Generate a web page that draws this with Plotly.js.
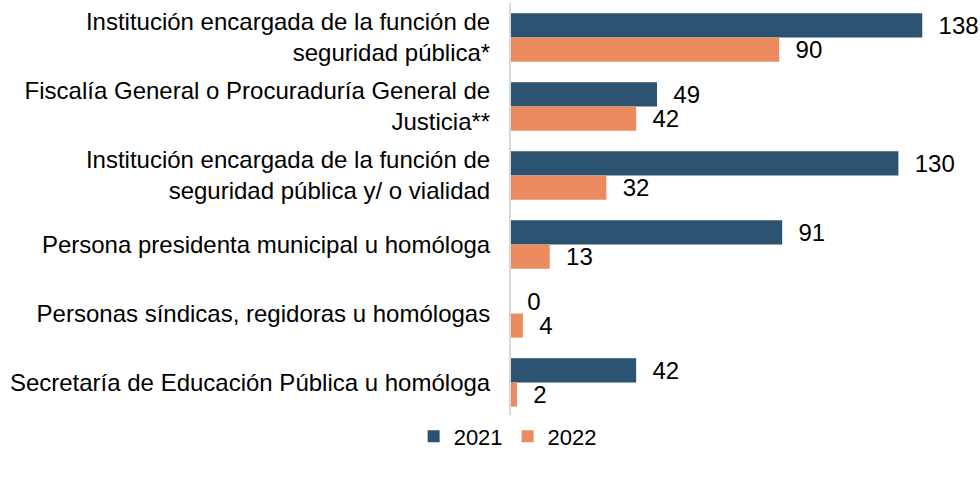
<!DOCTYPE html>
<html>
<head>
<meta charset="utf-8">
<script src="https://cdn.plot.ly/plotly-3.0.1.min.js"></script>
<style>html,body{margin:0;padding:0;background:#fff;}#chart{width:980px;height:477px;}</style>
</head>
<body>
<div id="chart"></div>
<script>
const categories = [
  "Institución encargada de la función de<br>seguridad pública*",
  "Fiscalía General o Procuraduría General de<br>Justicia**",
  "Institución encargada de la función de<br>seguridad pública y/ o vialidad",
  "Persona presidenta municipal u homóloga",
  "Personas síndicas, regidoras u homólogas",
  "Secretaría de Educación Pública u homóloga"
];
const values2021 = [138, 49, 130, 91, 0, 42];
const values2022 = [90, 42, 32, 13, 4, 2];
const seriesNames = ["2021", "2022"];

const font = {family: "Liberation Sans, Arial, sans-serif", size: 24, color: "#000"};
const legendFont = {family: "Liberation Sans, Arial, sans-serif", size: 22, color: "#000"};

const mk = (name, vals, color) => ({
  type: "bar", orientation: "h", name: name,
  x: vals, y: categories,
  marker: {color: color},
  texttemplate: "\u00a0\u00a0%{x}",
  textposition: "outside",
  constraintext: "none",
  cliponaxis: false,
  textfont: font,
  hoverinfo: "x+name"
});

const data = [
  mk(seriesNames[0], values2021, "#2C5272"),
  mk(seriesNames[1], values2022, "#EC8B60")
];

const layout = {
  width: 980, height: 477,
  margin: {l: 511, r: 22, t: 3, b: 60, autoexpand: false},
  paper_bgcolor: "#fff", plot_bgcolor: "#fff",
  barmode: "group", bargap: 0.3, bargroupgap: 0,
  font: font,
  xaxis: {range: [0, 150], showgrid: false, zeroline: false, showticklabels: false, showline: false, automargin: false},
  yaxis: {autorange: "reversed", showline: true, linecolor: "#D9D9D9", linewidth: 2, ticks: "outside", ticklen: 14, tickcolor: "rgba(0,0,0,0)", tickfont: font, showgrid: false, zeroline: false, automargin: false},
  legend: {orientation: "h", xref: "container", x: 0.518, xanchor: "center", yref: "container", y: 0.085, yanchor: "middle", font: legendFont, traceorder: "normal", itemwidth: 30},
  showlegend: true
};

Plotly.newPlot("chart", data, layout, {displayModeBar: false, staticPlot: true});
</script>
</body>
</html>
